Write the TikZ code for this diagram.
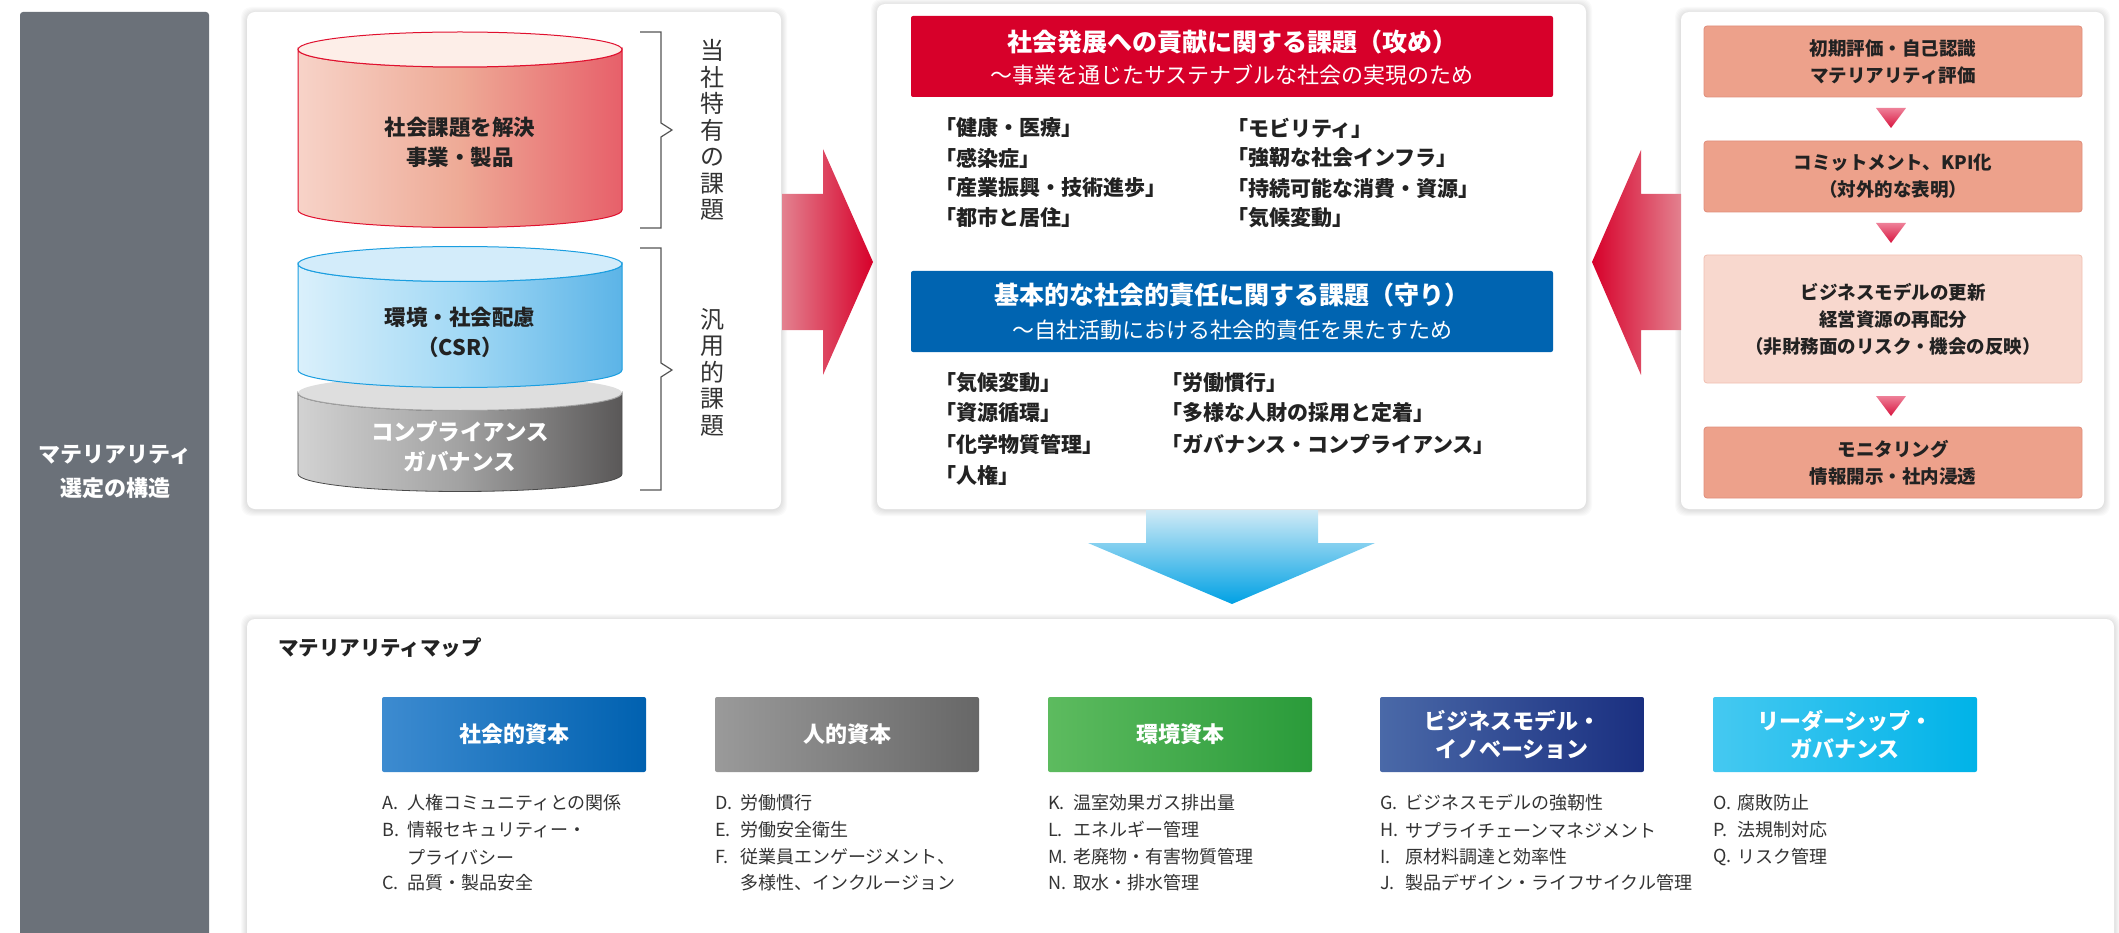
\documentclass[tikz,border=0pt]{standalone}
\usepackage{fontspec}
\setmainfont{Noto Sans CJK JP}
\newcommand{\myfs}[2]{\fontsize{#1pt}{#2pt}\selectfont}
\definecolor{barGray}{HTML}{6B7179}
\definecolor{hdrRed}{HTML}{D7002A}
\definecolor{hdrBlue}{HTML}{0064B1}
\definecolor{txtDark}{HTML}{222222}
\definecolor{txtItem}{HTML}{333333}
\definecolor{brk}{HTML}{555555}
\definecolor{salmon}{HTML}{EDA18B}
\definecolor{salmonEdge}{HTML}{E08E7C}
\definecolor{paleSalmon}{HTML}{F8D8CE}
\definecolor{paleEdge}{HTML}{F0C0B2}
\definecolor{arrPink}{HTML}{E3818F}
\definecolor{arrRed}{HTML}{D7002A}
\definecolor{triTop}{HTML}{EE8098}
\definecolor{triBot}{HTML}{D8153F}
\definecolor{dnTop}{HTML}{CFEAF6}
\definecolor{dnBot}{HTML}{00A1E4}
\definecolor{cRa}{HTML}{F7D3C8}
\definecolor{cRb}{HTML}{EEAA96}
\definecolor{cRc}{HTML}{E7606A}
\definecolor{cRtop}{HTML}{FDEEE8}
\definecolor{cRline}{HTML}{E0102E}
\definecolor{cBa}{HTML}{DAF0FB}
\definecolor{cBb}{HTML}{A3D9F5}
\definecolor{cBc}{HTML}{5CB4E7}
\definecolor{cBtop}{HTML}{D3ECFA}
\definecolor{cBline}{HTML}{1A9EE0}
\definecolor{cGa}{HTML}{D2D2D2}
\definecolor{cGb}{HTML}{A2A2A2}
\definecolor{cGc}{HTML}{5A5858}
\definecolor{cGtop}{HTML}{DEDEDE}
\definecolor{cGline}{HTML}{4A4A4A}
\definecolor{k1a}{HTML}{3D8BD0}
\definecolor{k1b}{HTML}{0061B0}
\definecolor{k2a}{HTML}{9A9A9A}
\definecolor{k2b}{HTML}{676767}
\definecolor{k3a}{HTML}{5DBB5F}
\definecolor{k3b}{HTML}{2A9B3A}
\definecolor{k4a}{HTML}{4A69A8}
\definecolor{k4b}{HTML}{1A2F80}
\definecolor{k5a}{HTML}{45C9F1}
\definecolor{k5b}{HTML}{00B3E8}
\newcommand{\pshadow}[4]{%
  \foreach \sh in {1,...,6}{%
    \fill[black,opacity=0.018,rounded corners=10pt] (#1-\sh,#2-\sh+1) rectangle (#3+\sh,#4+\sh+1);}}
\begin{document}
\begin{tikzpicture}[x=1pt,y=-1pt,
  panel/.style={fill=white, rounded corners=8pt},
  hdrtitle/.style={text=white, font=\bfseries\myfs{25}{30}, inner sep=0},
  hdrsub/.style={text=white, font=\myfs{22}{26}, inner sep=0},
  citem/.style={anchor=west, inner sep=0, text=txtDark, font=\bfseries\myfs{21}{26}},
  flowbox/.style={fill=salmon, draw=salmonEdge, line width=0.8pt, rounded corners=3pt,
     minimum width=378pt, align=center, text=txtDark, font=\bfseries\myfs{18.5}{27}, inner sep=0},
  catbox/.style={rounded corners=2pt, minimum width=264pt, minimum height=75pt,
     align=center, text=white, font=\bfseries\myfs{22}{28}, inner sep=0},
  itm/.style={anchor=west, inner sep=0, text=txtItem, font=\myfs{18}{22}},
  cyltxt/.style={align=center, font=\bfseries\myfs{21.5}{30}, inner sep=0},
  vtxt/.style={align=center, text=txtItem, font=\myfs{24}{26.5}, inner sep=0},
]
\useasboundingbox (0,0) rectangle (2119,933);
\clip (0,0) rectangle (2119,933);

% left bar
\fill[barGray, rounded corners=3pt] (20,12) rectangle (209,960);
\node[inner sep=0, align=center, text=white, font=\bfseries\myfs{22}{34}] (bartxt) at (115,472) {マテリアリティ\\選定の構造};

% panel shadows and panels
\pshadow{247}{12}{781}{509}
\pshadow{877}{4}{1586}{509}
\pshadow{1681}{12}{2104}{509}
\pshadow{247}{619}{2114}{960}
\fill[panel] (247,12) rectangle (781,509);
\fill[panel] (877,4) rectangle (1586,509);
\fill[panel] (1681,12) rectangle (2104,509);
\fill[panel] (247,619) rectangle (2114,960);

% ---- cylinders
% gray
\shade[left color=cGa, right color=cGc, middle color=cGb, draw=cGline, line width=0.8pt]
  (298,393) -- (298,474) arc[start angle=180,end angle=0,x radius=162,y radius=17.5]
  -- (622,393) arc[start angle=0,end angle=180,x radius=162,y radius=17.5] -- cycle;
\fill[cGtop] (460,393) ellipse[x radius=162, y radius=17.5];
\draw[cGb, line width=1pt] (298,393) arc[start angle=180,end angle=0,x radius=162,y radius=17.5];
% blue
\shade[left color=cBa, right color=cBc, middle color=cBb, draw=cBline, line width=1pt]
  (298,264) -- (298,370) arc[start angle=180,end angle=0,x radius=162,y radius=17.5]
  -- (622,264) arc[start angle=0,end angle=180,x radius=162,y radius=17.5] -- cycle;
\filldraw[fill=cBtop, draw=cBline, line width=1pt] (460,264) ellipse[x radius=162, y radius=17.5];
% red
\shade[left color=cRa, right color=cRc, middle color=cRb, draw=cRline, line width=1pt]
  (298,49.5) -- (298,210) arc[start angle=180,end angle=0,x radius=162,y radius=17.5]
  -- (622,49.5) arc[start angle=0,end angle=180,x radius=162,y radius=17.5] -- cycle;
\filldraw[fill=cRtop, draw=cRline, line width=1pt] (460,49.5) ellipse[x radius=162, y radius=17.5];

\node[cyltxt, text=txtDark] (cyl1) at (460,142) {社会課題を解決\\事業・製品};
\node[cyltxt, text=txtDark] (cyl2) at (460,332) {環境・社会配慮\\（CSR）};
\node[cyltxt, text=white, font=\bfseries\myfs{22.5}{30}] (cyl3) at (460,447) {コンプライアンス\\ガバナンス};

% brackets
\draw[brk, line width=1.2pt] (640,32) -- (661,32) -- (661,123) -- (672,130) -- (661,137) -- (661,228) -- (640,228);
\draw[brk, line width=1.2pt] (640,248) -- (661,248) -- (661,363) -- (672,370) -- (661,377) -- (661,490) -- (640,490);
\node[vtxt] (v1) at (712,130) {当\\社\\特\\有\\の\\課\\題};
\node[vtxt] (v2) at (712,372) {汎\\用\\的\\課\\題};

% big arrows
\shade[left color=arrPink, right color=arrRed]
  (782,194) -- (823,194) -- (823,149) -- (873,262) -- (823,375) -- (823,330) -- (782,330) -- cycle;
\shade[left color=arrRed, right color=arrPink]
  (1681,194) -- (1641,194) -- (1641,150) -- (1592,262) -- (1641,375) -- (1641,330) -- (1681,330) -- cycle;
\shade[top color=dnTop, bottom color=dnBot]
  (1146,510) -- (1318,510) -- (1318,543) -- (1375,543) -- (1232,604) -- (1088,543) -- (1146,543) -- cycle;

% ---- center panel
\node[fill=hdrRed, rounded corners=2pt, minimum width=642pt, minimum height=81pt, inner sep=0] (hred) at (1232,56.5) {};
\node[hdrtitle] (hredt) at (1232,42) {社会発展への貢献に関する課題（攻め）};
\node[hdrsub] (hreds) at (1232,75) {～事業を通じたサステナブルな社会の実現のため};
\node[fill=hdrBlue, rounded corners=2pt, minimum width=642pt, minimum height=81pt, inner sep=0] (hblue) at (1232,311.5) {};
\node[hdrtitle] (hbluet) at (1232,295) {基本的な社会的責任に関する課題（守り）};
\node[hdrsub] (hblues) at (1232,330) {～自社活動における社会的責任を果たすため};

\node[citem] (r1) at (935,128) {「健康・医療」};
\node[citem] (r2) at (935,158) {「感染症」};
\node[citem] (r3) at (935,188) {「産業振興・技術進歩」};
\node[citem] (r4) at (935,218) {「都市と居住」};
\node[citem] (r5) at (1227,128) {「モビリティ」};
\node[citem] (r6) at (1227,158) {「強靭な社会インフラ」};
\node[citem] (r7) at (1227,188) {「持続可能な消費・資源」};
\node[citem] (r8) at (1227,218) {「気候変動」};

\node[citem] (b1) at (935,383) {「気候変動」};
\node[citem] (b2) at (935,413) {「資源循環」};
\node[citem] (b3) at (935,444) {「化学物質管理」};
\node[citem] (b4) at (935,475) {「人権」};
\node[citem] (b5) at (1161,383) {「労働慣行」};
\node[citem] (b6) at (1161,413) {「多様な人財の採用と定着」};
\node[citem] (b7) at (1161,444) {「ガバナンス・コンプライアンス」};

% ---- right panel flow
\node[flowbox, minimum height=71pt] (f1) at (1893,61.5) {初期評価・自己認識\\マテリアリティ評価};
\node[flowbox, minimum height=71pt] (f2) at (1893,176.5) {コミットメント、KPI化\\（対外的な表明）};
\node[flowbox, minimum height=128pt, fill=paleSalmon, draw=paleEdge] (f3) at (1893,319) {ビジネスモデルの更新\\経営資源の再配分\\（非財務面のリスク・機会の反映）};
\node[flowbox, minimum height=71pt] (f4) at (1893,462.5) {モニタリング\\情報開示・社内浸透};
\shade[top color=triTop, bottom color=triBot] (1876,108) -- (1906,108) -- (1891,128) -- cycle;
\shade[top color=triTop, bottom color=triBot] (1876,223) -- (1906,223) -- (1891,243) -- cycle;
\shade[top color=triTop, bottom color=triBot] (1876,396) -- (1906,396) -- (1891,416) -- cycle;

% ---- bottom map
\node[anchor=west, inner sep=0, text=txtDark, font=\bfseries\myfs{20.5}{26}] (maptitle) at (278,648) {マテリアリティマップ};

\node[catbox, left color=k1a, right color=k1b] (k1) at (514,734.5) {社会的資本};
\node[catbox, left color=k2a, right color=k2b] (k2) at (847,734.5) {人的資本};
\node[catbox, left color=k3a, right color=k3b] (k3) at (1180,734.5) {環境資本};
\node[catbox, left color=k4a, right color=k4b] (k4) at (1512,734.5) {ビジネスモデル・\\イノベーション};
\node[catbox, left color=k5a, right color=k5b] (k5) at (1845,734.5) {リーダーシップ・\\ガバナンス};

% items column 1
\node[itm] (lA) at (382,803) {A.}; \node[itm] (tA) at (407,803) {人権コミュニティとの関係};
\node[itm] (lB) at (382,830) {B.}; \node[itm] (tB) at (407,830) {情報セキュリティー・};
\node[itm] (tB2) at (407,857) {プライバシー};
\node[itm] (lC) at (382,883) {C.}; \node[itm] (tC) at (407,883) {品質・製品安全};
% column 2
\node[itm] (lD) at (715,803) {D.}; \node[itm] (tD) at (740,803) {労働慣行};
\node[itm] (lE) at (715,830) {E.}; \node[itm] (tE) at (740,830) {労働安全衛生};
\node[itm] (lF) at (715,857) {F.}; \node[itm] (tF) at (740,857) {従業員エンゲージメント、};
\node[itm] (tF2) at (740,883) {多様性、インクルージョン};
% column 3
\node[itm] (lK) at (1048,803) {K.}; \node[itm] (tK) at (1073,803) {温室効果ガス排出量};
\node[itm] (lL) at (1048,830) {L.}; \node[itm] (tL) at (1073,830) {エネルギー管理};
\node[itm] (lM) at (1048,857) {M.}; \node[itm] (tM) at (1073,857) {老廃物・有害物質管理};
\node[itm] (lN) at (1048,883) {N.}; \node[itm] (tN) at (1073,883) {取水・排水管理};
% column 4
\node[itm] (lG) at (1380,803) {G.}; \node[itm] (tG) at (1405,803) {ビジネスモデルの強靭性};
\node[itm] (lH) at (1380,830) {H.}; \node[itm] (tH) at (1405,830) {サプライチェーンマネジメント};
\node[itm] (lI) at (1380,857) {I.}; \node[itm] (tI) at (1405,857) {原材料調達と効率性};
\node[itm] (lJ) at (1380,883) {J.}; \node[itm] (tJ) at (1405,883) {製品デザイン・ライフサイクル管理};
% column 5
\node[itm] (lO) at (1713,803) {O.}; \node[itm] (tO) at (1737,803) {腐敗防止};
\node[itm] (lP) at (1713,830) {P.}; \node[itm] (tP) at (1737,830) {法規制対応};
\node[itm] (lQ) at (1713,857) {Q.}; \node[itm] (tQ) at (1737,857) {リスク管理};
\end{tikzpicture}
\end{document}
